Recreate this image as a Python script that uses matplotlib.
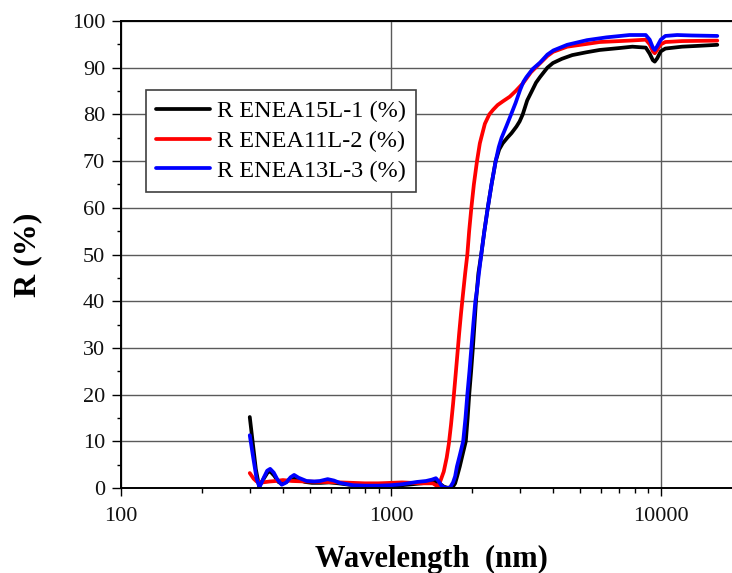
import matplotlib
matplotlib.use("Agg")
import matplotlib.pyplot as plt
from matplotlib.ticker import FixedLocator, FixedFormatter, LogLocator, MultipleLocator, NullFormatter

# Reflectance spectra (wavelength in nm, R in %)
wl_15L1 = [300, 308, 316, 325, 338, 350, 358, 370, 383, 395, 410, 425, 438, 455, 480, 510,
           550, 590, 640, 700, 800, 900, 1000, 1100, 1200, 1300, 1400, 1470, 1520, 1570,
           1630, 1690, 1730, 1760, 1800, 1850, 1895, 1925, 1951, 1983, 2013, 2040, 2067,
           2110, 2162, 2220, 2286, 2360, 2445, 2520, 2596, 2700, 2800, 2920, 3000, 3080,
           3200, 3330, 3450, 3570, 3800, 3985, 4300, 4700, 5300, 5940, 7000, 7850, 8800,
           9100, 9350, 9500, 9700, 10000, 10400, 12000, 14000, 16200]
r_15L1 = [15.2, 9.5, 4.0, 0.3, 2.0, 3.4, 3.5, 2.6, 1.3, 0.9, 1.3, 2.0, 2.2, 1.8, 1.3, 1.1,
          1.1, 1.2, 1.0, 0.7, 0.5, 0.5, 0.5, 0.6, 0.8, 1.0, 1.2, 1.4, 0.9, 0.3,
          0.0, 0.1, 1.0, 2.5, 4.6, 7.5, 10, 15, 20, 25, 30, 35, 40,
          46, 50, 55, 60, 65, 70, 72.5, 73.8, 75, 76, 77.4, 78.5, 80,
          83, 85, 86.8, 88, 90, 91, 91.9, 92.7, 93.3, 93.8, 94.2, 94.5, 94.3,
          93.0, 91.6, 91.3, 92.0, 93.5, 94.1, 94.5, 94.7, 94.9]

wl_11L2 = [300, 310, 318, 335, 356, 375, 398, 430, 480, 550, 650, 723, 800, 900, 1000,
           1100, 1200, 1300, 1430, 1495, 1530, 1570, 1610, 1640, 1670, 1700, 1730, 1760,
           1790, 1820, 1850, 1885, 1920, 1950, 1987, 2030, 2085, 2136, 2162, 2230, 2316,
           2393, 2486, 2600, 2759, 2900, 3090, 3300, 3563, 3800, 3992, 4500, 5330, 5940,
           7660, 8800, 9100, 9350, 9500, 9700, 10000, 10400, 12000, 16200]
r_11L2 = [3.2, 2.0, 1.4, 1.2, 1.4, 1.5, 1.7, 1.5, 1.4, 1.3, 1.2, 1.1, 1.0, 1.0, 1.1,
          1.2, 1.1, 1.0, 1.0, 0.3, 1.7, 3.5, 6.5, 9.5, 13.5, 18, 23, 28,
          33, 37.5, 41.5, 46, 50, 55, 60, 65, 70, 73.8, 75, 78, 80,
          81, 82, 82.8, 83.8, 85, 86.7, 89, 90.9, 92.5, 93.4, 94.5, 95.1, 95.5,
          95.8, 96.0, 95.0, 93.5, 93.1, 93.8, 95.0, 95.5, 95.7, 95.8]

wl_13L3 = [300, 309, 318, 326, 338, 348, 357, 368, 380, 394, 410, 425, 438, 455, 487, 520,
           546, 583, 615, 647, 723, 800, 900, 1000, 1100, 1250, 1350, 1420, 1468, 1500,
           1540, 1580, 1620, 1660, 1700, 1730, 1757, 1800, 1853, 1890, 1920, 1955, 1987,
           2020, 2056, 2085, 2120, 2162, 2220, 2286, 2360, 2445, 2510, 2572, 2680, 2789,
           2900, 3010, 3100, 3180, 3350, 3570, 3800, 4000, 4500, 5330, 6300, 7660, 8800,
           9100, 9350, 9500, 9700, 10000, 10400, 11500, 13000, 16200]
r_13L3 = [11.3, 6.5, 2.0, 0.2, 2.2, 3.7, 4.1, 3.3, 1.8, 0.7, 1.2, 2.3, 2.8, 2.2, 1.5, 1.4,
          1.5, 1.9, 1.6, 1.1, 0.6, 0.5, 0.5, 0.6, 0.8, 1.3, 1.5, 1.8, 2.1, 1.5,
          0.5, 0.1, 0.0, 0.2, 1.2, 2.5, 4.6, 7.0, 10, 15, 20, 25, 30,
          35, 40, 42.4, 46, 50, 55, 60, 65, 70, 73, 75, 77.5, 80,
          82.5, 85.2, 87, 88, 89.7, 91.1, 92.8, 93.7, 94.9, 95.9, 96.5, 97.0, 97.0,
          96.0, 94.3, 93.8, 94.6, 96.0, 96.8, 97.0, 96.9, 96.8]

series_labels = ["R ENEA15L-1 (%)", "R ENEA11L-2 (%)", "R ENEA13L-3 (%)"]
series_colors = ["#000000", "#ff0000", "#0000ff"]

x_ticks = [100, 1000, 10000]
x_tick_labels = ["100", "1000", "10000"]
y_ticks = [0, 10, 20, 30, 40, 50, 60, 70, 80, 90, 100]

serif = ["Liberation Serif", "DejaVu Serif"]
plt.rcParams["font.family"] = serif

W, H = 732, 573
fig = plt.figure(figsize=(W / 100, H / 100), dpi=100)
left, right, top, bottom = 121, 742, 21, 488
ax = fig.add_axes([left / W, (H - bottom) / H, (right - left) / W, (bottom - top) / H])

for wl, r, lab, col in zip([wl_15L1, wl_11L2, wl_13L3], [r_15L1, r_11L2, r_13L3],
                           series_labels, series_colors):
    ax.plot(wl, r, color=col, lw=2.7, label=lab, solid_joinstyle="round",
            solid_capstyle="round")

ax.set_xscale("log")
ax.set_xlim(100, 20000)
ax.set_ylim(0, 100)

ax.xaxis.set_major_locator(FixedLocator(x_ticks))
ax.xaxis.set_major_formatter(FixedFormatter(x_tick_labels))
ax.xaxis.set_minor_locator(LogLocator(base=10, subs=[2, 3, 4, 5, 6, 7, 8, 9]))
ax.xaxis.set_minor_formatter(NullFormatter())
ax.yaxis.set_major_locator(FixedLocator(y_ticks))
ax.yaxis.set_minor_locator(MultipleLocator(5))

ax.grid(True, which="major", color="#5a5a5a", lw=1.0)
ax.set_axisbelow(True)

for s in ["left", "bottom", "top"]:
    ax.spines[s].set_linewidth(1.4)
    ax.spines[s].set_color("black")
ax.spines["right"].set_visible(False)

ax.tick_params(axis="both", which="major", direction="out", labelsize=16,
               width=1.0, color="black", labelcolor="#111111")
ax.tick_params(axis="y", which="major", length=6.5, pad=5)
ax.tick_params(axis="y", which="minor", length=3.2, width=1.0)
ax.tick_params(axis="x", which="major", length=5.8, pad=8)
ax.tick_params(axis="x", which="minor", length=3.6, width=1.0)

ax.set_xlabel("Wavelength  (nm)", fontsize=22, fontweight="bold", va="baseline")
ax.xaxis.set_label_coords(0.5, (bottom - 567) / (bottom - top))
ax.set_ylabel("R (%)", fontsize=23, fontweight="bold", va="center", ha="center")
ax.yaxis.set_label_coords((28 - left) / (right - left), 0.5)

leg = ax.legend(loc="upper left", bbox_to_anchor=(146 / W, 1 - 90 / H),
                bbox_transform=fig.transFigure, borderaxespad=0, fontsize=17.5,
                frameon=True, fancybox=False, framealpha=1, edgecolor="#404040",
                handlelength=2.2, handletextpad=0.3, labelspacing=0.32,
                borderpad=0.42)
leg.get_frame().set_linewidth(1.2)

fig.savefig("out.png", dpi=100)
